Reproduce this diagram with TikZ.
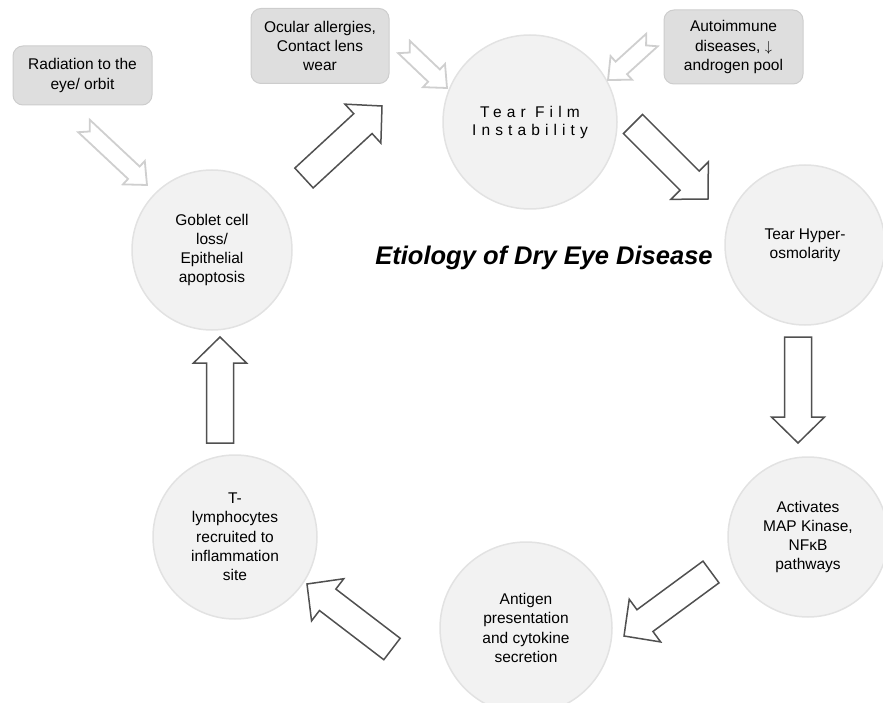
\documentclass[tikz,border=0pt]{standalone}
\usepackage{fontspec}
\setmainfont{Liberation Sans}
\newfontfamily\spacedfont[LetterSpace=33]{Liberation Sans}
\usetikzlibrary{calc, positioning}

\definecolor{circlefill}{HTML}{F2F2F2}
\definecolor{circleline}{HTML}{E2E2E2}
\definecolor{boxfill}{HTML}{DEDEDE}
\definecolor{boxline}{HTML}{CDCDCD}
\definecolor{cycleline}{HTML}{505050}
\definecolor{inputline}{HTML}{CFCFCF}

% block arrow from tail #2 to tip #3
\newcommand{\fatarrow}[3]{%
  \draw[#1] ($(#2)!\sw!90:(#3)$) -- ($(#3)!\hl!(#2)!\sw!-90:(#2)$)
    -- ($(#3)!\hl!(#2)!\hw!-90:(#2)$) -- (#3)
    -- ($(#3)!\hl!(#2)!\hw!90:(#2)$) -- ($(#3)!\hl!(#2)!\sw!90:(#2)$)
    -- ($(#2)!\sw!-90:(#3)$) -- ($(#2)!\nd!(#3)$) -- cycle;}

\begin{document}
\begin{tikzpicture}[x=1pt, y=-1pt, font=\fontsize{15.5}{19.3}\selectfont]

    % Define the styles
    \tikzstyle{stage} = [circle, fill=circlefill, draw=circleline, line width=1.5pt, align=center, inner sep=0pt]
    \tikzstyle{cause} = [rectangle, rounded corners=10pt, fill=boxfill, draw=boxline, line width=1pt, align=center, inner sep=0pt]
    \tikzstyle{cyclearrow} = [draw=cycleline, fill=white, line width=1.5pt, /utils/exec={\def\sw{13.5pt}\def\hw{26.5pt}\def\hl{26pt}\def\nd{0pt}}]
    \tikzstyle{inputarrow} = [draw=inputline, fill=white, line width=1.8pt, /utils/exec={\def\sw{8.5pt}\def\hw{16pt}\def\hl{18pt}\def\nd{8pt}}]

    \useasboundingbox (0,0) rectangle (883,703);

    % Nodes
    \node (tear) [stage, minimum size=174pt, font={\spacedfont\fontsize{15.5}{18}\selectfont}] at (530,122) {Tear Film\\Instability};
    \node (hyper) [stage, minimum size=160pt] at (805,245) {Tear Hyper-\\osmolarity};
    \node (mapk) [stage, minimum size=160pt] at (808,537) {Activates\\MAP Kinase,\\NFκB\\pathways};
    \node (antigen) [stage, minimum size=172pt] at (526,628) {Antigen\\presentation\\and cytokine\\secretion};
    \node (tcell) [stage, minimum size=164pt] at (235,537) {T-\\lymphocytes\\recruited to\\inflammation\\site};
    \node (goblet) [stage, minimum size=160pt] at (212,250) {Goblet cell\\loss/\\Epithelial\\apoptosis};

    \node (radiation) [cause, minimum width=139pt, minimum height=59pt] at (82.5,75.5) {Radiation to the\\eye/ orbit};
    \node (ocular) [cause, minimum width=138pt, minimum height=75pt] at (320,46) {Ocular allergies,\\Contact lens\\wear};
    \node (autoimmune) [cause, minimum width=139pt, minimum height=74pt] at (733.5,47) {Autoimmune\\diseases, $\downarrow$\\androgen pool};

    \node (title) at (544,258) {\fontsize{25.5}{30}\selectfont\bfseries\itshape Etiology of Dry Eye Disease};

    % Arrow ends
    \coordinate (gt-tail) at (304,178);  \coordinate (gt-tip) at (382,106);
    \coordinate (th-tail) at (633,124);  \coordinate (th-tip) at (708,199);
    \coordinate (hm-tail) at (798,337);  \coordinate (hm-tip) at (798,443);
    \coordinate (ma-tail) at (711,572);  \coordinate (ma-tip) at (624,636);
    \coordinate (at-tail) at (392,649);  \coordinate (at-tip) at (307,584);
    \coordinate (tg-tail) at (220,443);  \coordinate (tg-tip) at (220,337);

    \coordinate (rg-tail) at (84,126);   \coordinate (rg-tip) at (147,185);
    \coordinate (ot-tail) at (404,47);   \coordinate (ot-tip) at (447,88);
    \coordinate (at2-tail) at (652,40);  \coordinate (at2-tip) at (608,80);

    % Arrows
    \fatarrow{cyclearrow}{gt-tail}{gt-tip}
    \fatarrow{cyclearrow}{th-tail}{th-tip}
    \fatarrow{cyclearrow}{hm-tail}{hm-tip}
    \fatarrow{cyclearrow}{ma-tail}{ma-tip}
    \fatarrow{cyclearrow}{at-tail}{at-tip}
    \fatarrow{cyclearrow}{tg-tail}{tg-tip}

    \fatarrow{inputarrow}{rg-tail}{rg-tip}
    \fatarrow{inputarrow}{ot-tail}{ot-tip}
    \fatarrow{inputarrow}{at2-tail}{at2-tip}

\end{tikzpicture}
\end{document}
